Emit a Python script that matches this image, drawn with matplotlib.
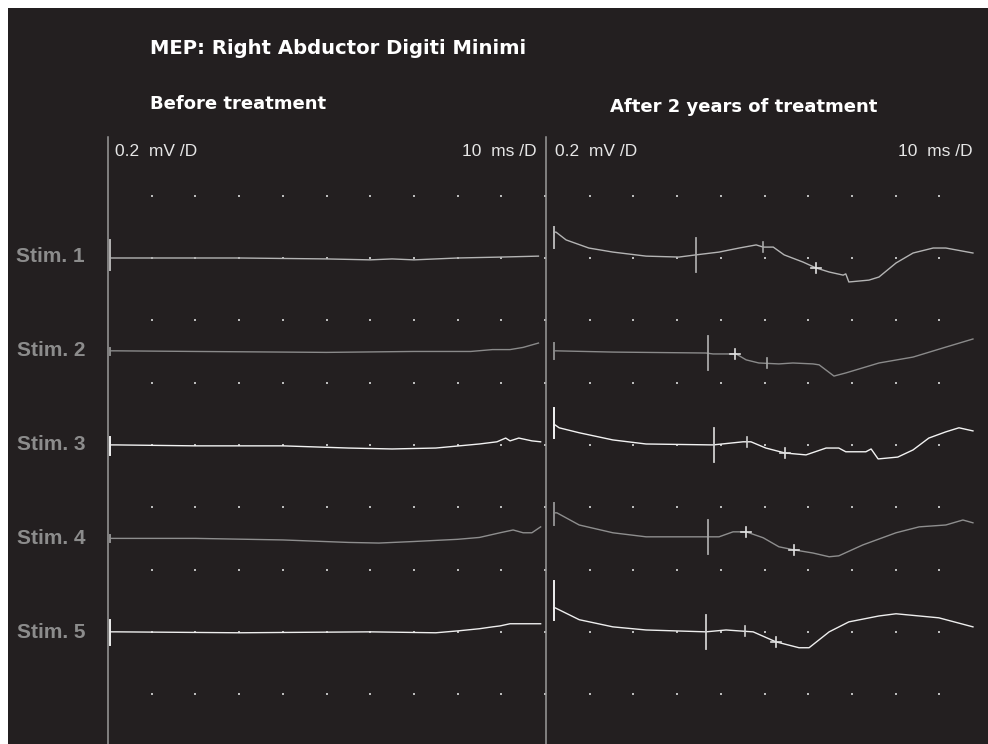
import numpy as np
import matplotlib
matplotlib.use("Agg")
import matplotlib.pyplot as plt
from matplotlib.patches import Rectangle

# ---------------- data (time in ms, amplitude in mV relative to each row baseline) -------------
stim_labels = ["Stim. 1", "Stim. 2", "Stim. 3", "Stim. 4", "Stim. 5"]
row_offsets = [0.0, -0.3, -0.6, -0.9, -1.2]          # mV, 0.2 mV/D display
trace_colors = ["#b4b4b4", "#8a8a8a", "#f2f2f2", "#8e8e8e", "#eeeeee"]

# Before treatment
left_t = [
    [1.1, 2, 10, 30, 50, 60, 65, 70, 80, 90, 98.5],
    [1.1, 2, 20, 50, 70, 83, 88, 92, 95, 98.5],
    [1.1, 2, 20, 40, 55, 65, 75, 85, 89, 91, 92, 94, 97, 99],
    [1.1, 2, 20, 40, 55, 62, 70, 80, 85, 89.7, 92.7, 95, 97, 99],
    [1.1, 2, 30, 60, 75, 80, 85, 88, 89.7, 92, 95, 99],
]
left_v = [
    [0.0, 0.0, 0.0, 0.0, -0.003, -0.006, -0.003, -0.006, 0.0, 0.003, 0.006],
    [0.002, 0.002, 0.0, -0.003, 0.0, 0.0, 0.006, 0.006, 0.013, 0.027],
    [0.0, 0.0, -0.003, -0.003, -0.010, -0.013, -0.010, 0.003, 0.010, 0.022, 0.013, 0.022, 0.013, 0.010],
    [0.0, 0.0, 0.0, -0.005, -0.013, -0.015, -0.010, -0.003, 0.003, 0.018, 0.027, 0.018, 0.018, 0.037],
    [0.0, 0.0, -0.003, 0.0, -0.003, 0.003, 0.010, 0.016, 0.019, 0.026, 0.026, 0.026],
]
left_artifact_t = [0.5, 0.5, 0.5, 0.5, 0.5]
left_artifact_range = [(0.058, -0.039), (0.010, -0.010), (0.025, -0.032), (0.010, -0.012), (0.039, -0.042)]

# After 2 years of treatment
right_t = [
    [2.3, 4.6, 9.8, 15.3, 22.9, 30.4, 34.3, 39.6, 44.2, 48.1, 49.7, 52.0, 54.5, 58.8, 61.8,
     64.8, 68.0, 68.6, 69.3, 73.9, 76.2, 80.1, 84.0, 88.6, 91.5, 97.7],
    [2.3, 15.3, 36.6, 38.2, 43.5, 45.8, 48.7, 53.3, 56.5, 61.1, 62.5, 65.9, 68.6, 76.2, 84.0,
     91.5, 97.7],
    [2.1, 3.0, 7.6, 15.3, 22.9, 38.2, 45.1, 46.9, 50.3, 54.7, 59.5, 64.1, 67.0, 68.6, 73.2,
     74.4, 76.0, 80.5, 84.0, 87.6, 91.5, 94.5, 97.7],
    [2.5, 7.6, 15.3, 22.9, 36.6, 39.6, 42.8, 45.8, 49.7, 53.3, 56.8, 61.1, 64.8, 67.0, 72.5,
     80.1, 85.4, 91.5, 95.4, 97.7],
    [2.1, 7.6, 15.3, 22.9, 36.6, 41.2, 44.2, 47.4, 52.6, 57.9, 60.2, 64.8, 69.3, 76.2, 80.1,
     89.9, 97.7],
]
right_v = [
    [0.083, 0.058, 0.032, 0.019, 0.006, 0.003, 0.010, 0.019, 0.032, 0.042, 0.035, 0.035, 0.010,
     -0.013, -0.032, -0.045, -0.055, -0.051, -0.077, -0.071, -0.061, -0.016, 0.016, 0.032, 0.032, 0.016],
    [0.002, -0.002, -0.005, -0.008, -0.008, -0.027, -0.037, -0.040, -0.037, -0.040, -0.043, -0.079,
     -0.069, -0.037, -0.018, 0.014, 0.040],
    [0.064, 0.055, 0.039, 0.016, 0.003, 0.0, 0.010, 0.010, -0.010, -0.026, -0.032, -0.010, -0.010,
     -0.022, -0.022, -0.013, -0.045, -0.039, -0.016, 0.022, 0.042, 0.055, 0.045],
    [0.082, 0.043, 0.018, 0.005, 0.005, 0.005, 0.021, 0.021, 0.002, -0.027, -0.037, -0.047, -0.059,
     -0.056, -0.021, 0.018, 0.037, 0.043, 0.059, 0.050],
    [0.077, 0.039, 0.016, 0.006, 0.0, 0.006, 0.003, 0.0, -0.032, -0.051, -0.051, 0.0, 0.032, 0.051,
     0.058, 0.045, 0.016],
]
right_artifact_t = [1.8, 1.8, 1.8, 1.8, 1.8]
right_artifact_range = [(0.100, 0.032), (0.027, -0.024), (0.119, 0.022), (0.114, 0.043), (0.164, 0.039)]

# latency markers (ms): large cursor, small cursor, cross cursor
marker_big = [34.3, 37.1, 38.4, 37.1, 36.6]
marker_small = [49.7, 50.6, 46.0, None, 45.5]
marker_cross = [[61.8], [43.2], [54.7], [45.8, 56.8], [52.6]]

title = "MEP: Right Abductor Digiti Minimi"
panel_titles = ["Before treatment", "After 2 years of treatment"]
gain_label = "0.2  mV /D"
sweep_label = "10  ms /D"

# ---------------- figure ----------------
W, H = 988, 744
BG = "#231f20"
fig = plt.figure(figsize=(W / 100, H / 100), dpi=100, facecolor="white")
fig.patches.append(Rectangle((8 / W, 0), (W - 8) / W, (H - 8) / H,
                             transform=fig.transFigure, facecolor=BG, edgecolor="none", zorder=-5))

top_px, bot_px = 134, 744
ymax, ymin = 0.398, -1.560
panels = [(108, 437), (546, 437)]
axes = []
for (x0, w) in panels:
    ax = fig.add_axes([x0 / W, 1 - bot_px / H, w / W, (bot_px - top_px) / H])
    ax.set_xlim(0, 100)
    ax.set_ylim(ymin, ymax)
    ax.axis("off")
    ax.patch.set_alpha(0)
    axes.append(ax)

grid_rows = np.arange(0.2, -1.41, -0.2)
for k, ax in enumerate(axes):
    cols = np.arange(10, 101 if k == 0 else 91, 10)
    gx, gy = np.meshgrid(cols, grid_rows)
    ax.scatter(gx.ravel(), gy.ravel(), s=1.5, color="#bbbbbb", marker="s",
               linewidths=0, clip_on=False, zorder=1)

def draw_traces(ax, ts, vs, art_t, art_r):
    for i in range(5):
        off = row_offsets[i]
        c = trace_colors[i]
        t = np.array(ts[i]); v = np.array(vs[i]) + off
        ax.plot(np.r_[art_t[i], t], np.r_[v[0], v], color=c, lw=1.0, zorder=3,
                solid_joinstyle="round")
        hi, lo = art_r[i]
        ax.plot([art_t[i], art_t[i]], [lo + off, hi + off], color=c, lw=1.4, zorder=3)

draw_traces(axes[0], left_t, left_v, left_artifact_t, left_artifact_range)
draw_traces(axes[1], right_t, right_v, right_artifact_t, right_artifact_range)

# cursors on right panel
axr = axes[1]
for i in range(5):
    off = row_offsets[i]
    t = np.array(right_t[i]); v = np.array(right_v[i]) + off
    c = "#cfcfcf" if i in (2, 4) else "#a8a8a8"
    yb = np.interp(marker_big[i], t, v)
    axr.plot([marker_big[i]] * 2, [yb - 0.054, yb + 0.054], color=c, lw=1.3, zorder=4)
    if marker_small[i] is not None:
        ys = np.interp(marker_small[i], t, v)
        axr.plot([marker_small[i]] * 2, [ys - 0.016, ys + 0.016], color=c, lw=1.2, zorder=4)
    for tc in marker_cross[i]:
        yc = np.interp(tc, t, v)
        axr.plot([tc] * 2, [yc - 0.016, yc + 0.016], color="#e0e0e0", lw=1.2, zorder=4)
        axr.plot([tc - 1.2, tc + 1.2], [yc, yc], color="#e0e0e0", lw=1.2, zorder=4)

# divider lines
ov = fig.add_axes([0, 0, 1, 1])
ov.set_xlim(0, W); ov.set_ylim(H, 0); ov.axis("off"); ov.patch.set_alpha(0)
for xd in (108, 546):
    ov.plot([xd, xd], [137, H], color="#9a9a9a", lw=1.1, zorder=2)

# texts
bold = dict(family=["DejaVu Sans"], weight="bold")
ov.text(150, 48, title, color="white", fontsize=14.1, va="center", ha="left", **bold)
ov.text(150, 104, panel_titles[0], color="white", fontsize=13.0, va="center", ha="left", **bold)
ov.text(610, 107, panel_titles[1], color="white", fontsize=13.0, va="center", ha="left", **bold)
narrow = dict(family=["Liberation Sans Narrow", "Liberation Sans", "DejaVu Sans"])
ov.text(115, 151, gain_label, color="#e6e6e6", fontsize=12.5, va="center", ha="left", **narrow)
ov.text(537, 151, sweep_label, color="#e6e6e6", fontsize=12.5, va="center", ha="right", **narrow)
ov.text(555, 151, gain_label, color="#e6e6e6", fontsize=12.5, va="center", ha="left", **narrow)
ov.text(973, 151, sweep_label, color="#e6e6e6", fontsize=12.5, va="center", ha="right", **narrow)

label_y = [257, 351, 445, 539, 633]
lab_font = dict(family=["Liberation Sans", "DejaVu Sans"], weight="bold")
for lab, yy in zip(stim_labels, label_y):
    ov.text(85, yy, lab, color="#8c8c8c", fontsize=15, va="center", ha="right", **lab_font)

fig.savefig("out.png", dpi=100, facecolor="white")
